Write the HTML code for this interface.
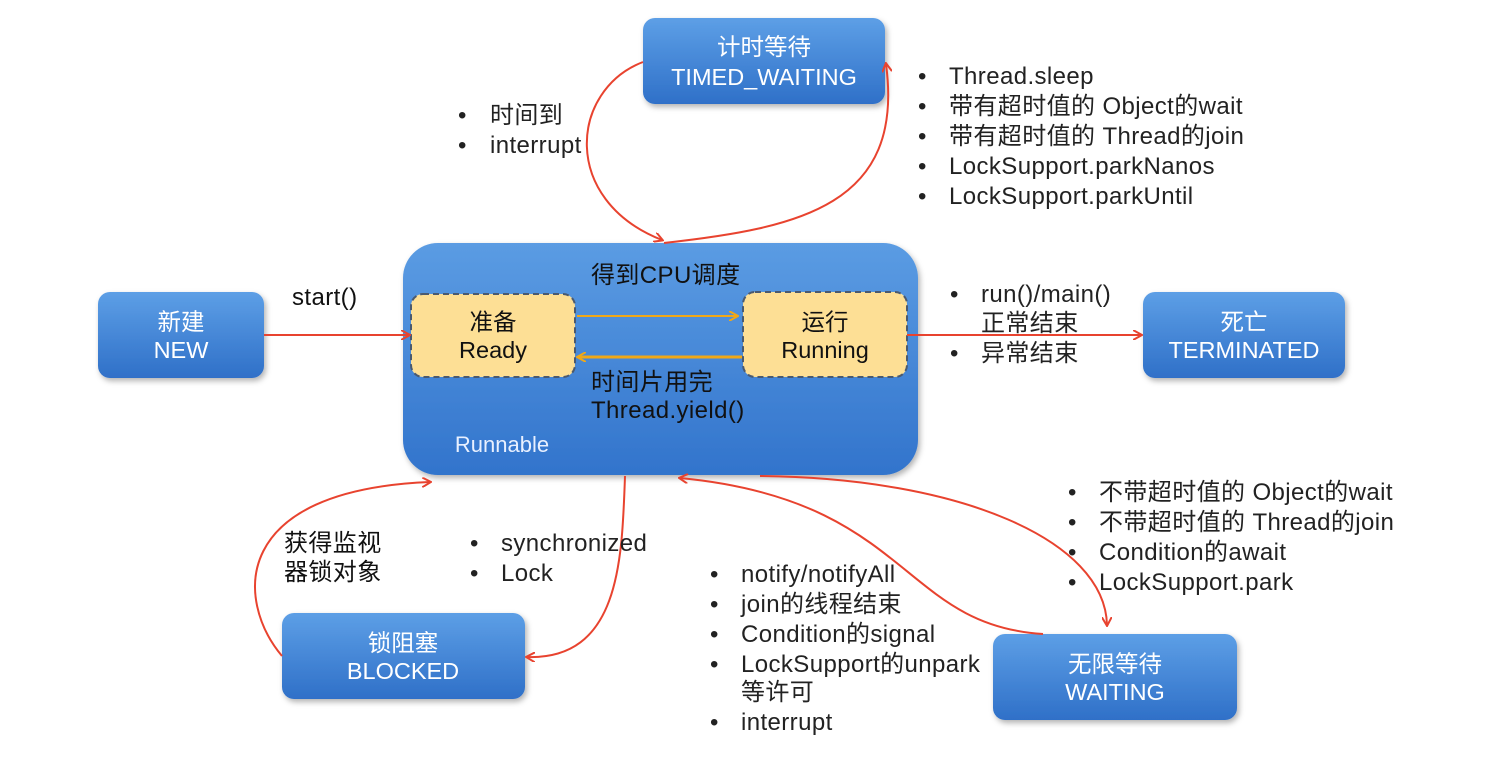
<!DOCTYPE html>
<html><head><meta charset="utf-8"><style>
body{margin:0;background:#fff;}
svg{display:block;font-family:"Liberation Sans","Noto Sans CJK SC",sans-serif;}
</style></head><body>
<svg width="1492" height="764" viewBox="0 0 1492 764">
<defs>
<linearGradient id="g" x1="0" y1="0" x2="0" y2="1"><stop offset="0" stop-color="#5d9fe6"/><stop offset="1" stop-color="#2f70c8"/></linearGradient>
<linearGradient id="g2" x1="0" y1="0" x2="0" y2="1"><stop offset="0" stop-color="#5b9ce3"/><stop offset="1" stop-color="#3274cc"/></linearGradient>
<filter id="s" x="-10%" y="-10%" width="130%" height="130%"><feDropShadow dx="2" dy="3" stdDeviation="3" flood-color="#000" flood-opacity="0.3"/></filter>
<marker id="a" markerWidth="10" markerHeight="10" refX="8" refY="5" orient="auto" markerUnits="userSpaceOnUse"><path d="M0,0 L9,5 L0,10" fill="none" stroke="#e8432f" stroke-width="2"/></marker>
<marker id="y" markerWidth="10" markerHeight="10" refX="8" refY="5" orient="auto" markerUnits="userSpaceOnUse"><path d="M0,0 L9,5 L0,10" fill="none" stroke="#f0a818" stroke-width="2"/></marker>
</defs>
<g filter="url(#s)">
<rect x="643" y="18" width="242" height="86" rx="12" fill="url(#g)"/>
<rect x="98" y="292" width="166" height="86" rx="12" fill="url(#g)"/>
<rect x="403" y="243" width="515" height="232" rx="35" fill="url(#g2)"/>
<rect x="1143" y="292" width="202" height="86" rx="12" fill="url(#g)"/>
<rect x="282" y="613" width="243" height="86" rx="12" fill="url(#g)"/>
<rect x="993" y="634" width="244" height="86" rx="12" fill="url(#g)"/>
</g>
<rect x="411" y="294" width="164" height="83" rx="12" fill="#fddf95" stroke="#4a5a70" stroke-width="2" stroke-dasharray="6,4"/>
<rect x="743" y="292" width="164" height="85" rx="12" fill="#fddf95" stroke="#4a5a70" stroke-width="2" stroke-dasharray="6,4"/>
<g fill="none" stroke="#f0a818" stroke-width="2">
<path d="M577,316 L737,316" marker-end="url(#y)"/>
<path d="M742,357 L578,357" marker-end="url(#y)" stroke-width="3"/>
</g>
<g fill="none" stroke="#e8432f" stroke-width="2">
<path d="M643,62 C570,90 560,200 662,240" marker-end="url(#a)"/>
<path d="M664,243 C800,228 905,205 886,64" marker-end="url(#a)"/>
<path d="M264,335 L409,335" marker-end="url(#a)"/>
<path d="M907,335 L1141,335" marker-end="url(#a)"/>
<path d="M282,656 C235,600 230,490 430,482" marker-end="url(#a)"/>
<path d="M625,476 C622,560 620,660 527,657" marker-end="url(#a)"/>
<path d="M1043,634 C900,625 910,500 680,478" marker-end="url(#a)"/>
<path d="M760,476 C960,478 1105,540 1107,625" marker-end="url(#a)"/>
</g>
<g fill="#fff" font-size="23.5" text-anchor="middle">
<text x="764" y="55">计时等待</text><text x="764" y="85">TIMED_WAITING</text>
<text x="181" y="330">新建</text><text x="181" y="358">NEW</text>
<text x="1244" y="330">死亡</text><text x="1244" y="358">TERMINATED</text>
<text x="403" y="651">锁阻塞</text><text x="403" y="679">BLOCKED</text>
<text x="1115" y="672">无限等待</text><text x="1115" y="700">WAITING</text>
<text x="502" y="452" font-size="22" fill="#e8f0ff">Runnable</text>
</g>
<g fill="#111" font-size="23.5" text-anchor="middle">
<text x="493" y="330">准备</text><text x="493" y="358">Ready</text>
<text x="825" y="330">运行</text><text x="825" y="358">Running</text>
</g>
<g fill="#111" font-size="24" letter-spacing="0.4">
<text x="591" y="283">得到CPU调度</text>
<text x="591" y="390">时间片用完</text>
<text x="591" y="418">Thread.yield()</text>
<text x="292" y="305">start()</text>
<text x="284" y="551">获得监视</text><text x="284" y="580">器锁对象</text>
</g>
<g fill="#222" font-size="24" letter-spacing="0.4">
<text x="458" y="123">•</text><text x="490" y="123">时间到</text>
<text x="458" y="153">•</text><text x="490" y="153">interrupt</text>
<text x="918" y="84">•</text><text x="949" y="84">Thread.sleep</text>
<text x="918" y="114">•</text><text x="949" y="114">带有超时值的 Object的wait</text>
<text x="918" y="144">•</text><text x="949" y="144">带有超时值的 Thread的join</text>
<text x="918" y="174">•</text><text x="949" y="174">LockSupport.parkNanos</text>
<text x="918" y="204">•</text><text x="949" y="204">LockSupport.parkUntil</text>
<text x="950" y="302">•</text><text x="981" y="302">run()/main()</text>
<text x="981" y="331">正常结束</text>
<text x="950" y="361">•</text><text x="981" y="361">异常结束</text>
<text x="470" y="551">•</text><text x="501" y="551">synchronized</text>
<text x="470" y="581">•</text><text x="501" y="581">Lock</text>
<text x="710" y="582">•</text><text x="741" y="582">notify/notifyAll</text>
<text x="710" y="612">•</text><text x="741" y="612">join的线程结束</text>
<text x="710" y="642">•</text><text x="741" y="642">Condition的signal</text>
<text x="710" y="672">•</text><text x="741" y="672">LockSupport的unpark</text>
<text x="741" y="700">等许可</text>
<text x="710" y="730">•</text><text x="741" y="730">interrupt</text>
<text x="1068" y="500">•</text><text x="1099" y="500">不带超时值的 Object的wait</text>
<text x="1068" y="530">•</text><text x="1099" y="530">不带超时值的 Thread的join</text>
<text x="1068" y="560">•</text><text x="1099" y="560">Condition的await</text>
<text x="1068" y="590">•</text><text x="1099" y="590">LockSupport.park</text>
</g>
</svg>
</body></html>
